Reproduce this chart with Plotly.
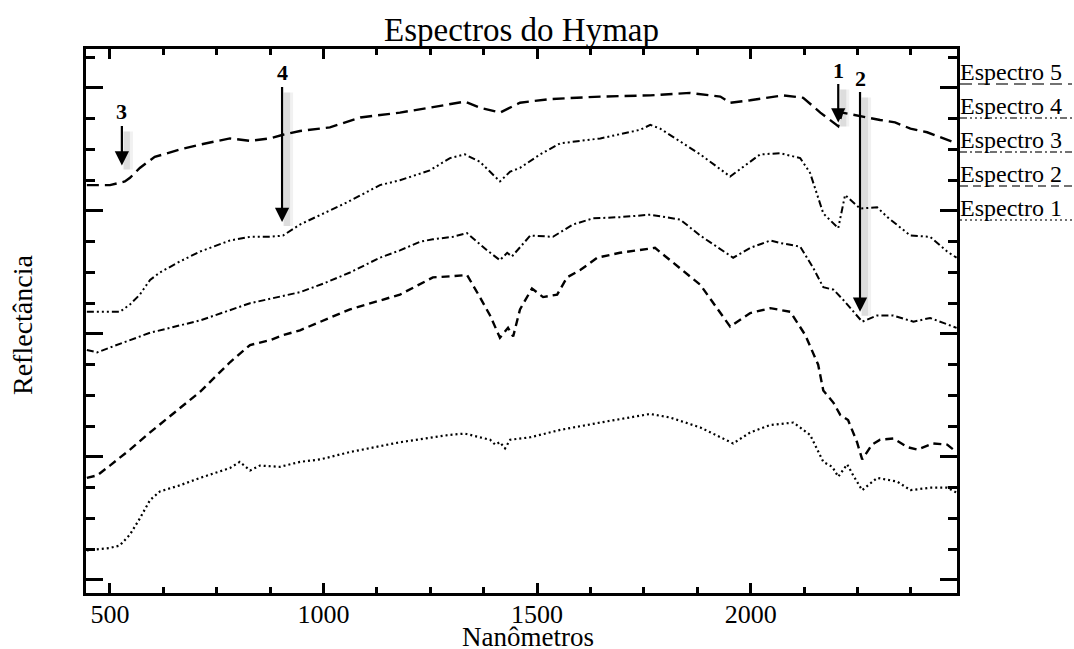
import plotly.graph_objects as go

# ---------------- data (wavelength in nm, reflectance in arbitrary %) ----------------
wl1 = [446, 500, 523, 547, 570, 594, 617, 664, 711, 781, 804, 828, 851, 898, 945, 992, 1062, 1179, 1296, 1331,
       1366, 1390, 1402, 1413, 1425, 1437, 1484, 1554, 1648, 1765, 1812, 1882, 1959, 1999, 2046, 2100, 2139, 2170,
       2191, 2205, 2226, 2240, 2261, 2296, 2343, 2374, 2420, 2460, 2482]
r1 = [12.4, 12.6, 12.8, 13.7, 15.0, 16.5, 17.2, 17.7, 18.3, 19.1, 19.6, 18.9, 19.3, 19.2, 19.6, 19.8, 20.4, 21.2,
      21.8, 21.9, 21.6, 21.4, 21.0, 21.2, 20.7, 21.4, 21.6, 22.2, 22.8, 23.5, 23.2, 22.4, 21.1, 22.0, 22.6, 22.8,
      21.8, 19.6, 19.2, 18.4, 19.4, 18.5, 17.3, 18.3, 18.0, 17.3, 17.5, 17.5, 17.1]

wl2 = [446, 470, 500, 547, 594, 664, 711, 781, 828, 875, 905, 945, 1062, 1179, 1256, 1303, 1336, 1366, 1390, 1413,
       1432, 1444, 1460, 1488, 1514, 1547, 1570, 1601, 1641, 1694, 1776, 1882, 1952, 1999, 2046, 2093, 2128, 2158,
       2170, 2194, 2210, 2228, 2249, 2261, 2284, 2303, 2334, 2367, 2390, 2427, 2460, 2482]
r2 = [18.3, 18.5, 19.3, 20.6, 22.0, 24.0, 25.3, 27.7, 29.1, 29.5, 29.9, 30.3, 32.0, 33.2, 34.6, 34.7, 34.8, 33.0,
      31.5, 29.7, 30.5, 29.8, 32.0, 33.7, 33.0, 33.2, 34.6, 35.2, 36.2, 36.6, 37.0, 34.0, 30.6, 31.7, 32.1, 31.8,
      29.9, 27.5, 25.4, 24.4, 23.4, 23.0, 21.2, 19.8, 21.0, 21.4, 21.5, 20.8, 20.6, 21.1, 21.0, 20.4]

wl3 = [446, 470, 500, 547, 594, 664, 711, 828, 945, 1000, 1062, 1132, 1179, 1226, 1256, 1303, 1336, 1383, 1413,
       1430, 1441, 1484, 1537, 1584, 1631, 1694, 1765, 1835, 1882, 1959, 1999, 2046, 2069, 2116, 2146, 2170, 2194,
       2216, 2261, 2296, 2334, 2381, 2420, 2451, 2482]
r3 = [28.7, 28.5, 28.9, 29.5, 30.1, 30.7, 31.1, 32.5, 33.4, 34.1, 35.0, 36.2, 36.8, 37.5, 37.7, 37.9, 38.2, 36.8,
      36.0, 36.6, 36.3, 38.0, 37.9, 38.9, 39.4, 39.5, 39.7, 39.3, 38.0, 36.2, 37.0, 37.6, 37.4, 37.1, 35.4, 33.8,
      33.6, 32.8, 31.0, 31.5, 31.5, 31.0, 31.3, 30.9, 30.5]

wl4 = [446, 500, 523, 547, 570, 594, 617, 664, 711, 781, 828, 875, 905, 945, 1055, 1132, 1179, 1249, 1296, 1331,
       1366, 1413, 1437, 1460, 1507, 1554, 1648, 1741, 1765, 1788, 1882, 1952, 1987, 2022, 2069, 2116, 2139, 2170,
       2205, 2221, 2256, 2296, 2320, 2374, 2420, 2460, 2482]
r4 = [31.8, 31.8, 31.8, 32.4, 33.2, 34.4, 35.0, 35.9, 36.7, 37.6, 37.9, 37.9, 38.0, 38.9, 40.7, 42.1, 42.5, 43.3,
      44.3, 44.6, 44.0, 42.4, 43.2, 43.5, 44.6, 45.5, 45.9, 46.6, 47.0, 46.7, 44.6, 42.8, 43.7, 44.6, 44.7, 44.3,
      43.1, 39.8, 38.6, 41.3, 40.2, 40.3, 39.5, 38.0, 37.9, 36.7, 36.2]

wl5 = [446, 500, 535, 547, 570, 594, 605, 664, 711, 781, 828, 875, 905, 945, 1015, 1086, 1132, 1179, 1249, 1331,
       1366, 1413, 1460, 1530, 1648, 1765, 1858, 1929, 1952, 1999, 2076, 2123, 2163, 2205, 2214, 2256, 2303, 2338,
       2374, 2413, 2482]
r5 = [42.1, 42.1, 42.4, 42.7, 43.5, 44.1, 44.4, 45.0, 45.4, 45.9, 45.7, 45.9, 46.2, 46.5, 46.8, 47.6, 47.8, 48.0,
      48.4, 48.9, 48.4, 48.0, 48.8, 49.1, 49.3, 49.4, 49.6, 49.3, 48.8, 49.0, 49.4, 49.2, 48.0, 46.9, 48.0, 47.7,
      47.4, 47.2, 46.7, 46.4, 45.5]

series_names = ["Espectro 1", "Espectro 2", "Espectro 3", "Espectro 4", "Espectro 5"]
x_ticks = [500, 1000, 1500, 2000]

# arrow markers: label, wavelength of tip, reflectance of tip
arrow_labels = ["1", "2", "3", "4"]
arrow_wl = [2205, 2256, 528, 903]
arrow_refl = [47.2, 31.8, 43.7, 39.1]

# ---------------- styles ----------------
FONT = "Liberation Serif"
dashes = ["2px,3px", "8px,5px", "7px,3px,2px,3px", "7px,3px,2px,3px,2px,3px,2px,3px", "12px,6px"]
widths = [2.2, 2.4, 2.0, 2.0, 2.4]
series = [(wl1, r1), (wl2, r2), (wl3, r3), (wl4, r4), (wl5, r5)]
Y_RANGE = [8.94, 53.17]

fig = go.Figure()
for (wl, r), name, d, w in zip(series, series_names, dashes, widths):
    fig.add_trace(go.Scatter(x=wl, y=r, mode="lines", name=name,
                             line=dict(color="black", width=w, dash=d), showlegend=False))

PLOT_L, PLOT_R, PLOT_T, PLOT_B = 86, 957, 49, 593
PW, PH = PLOT_R - PLOT_L, PLOT_B - PLOT_T


def px_x(px):
    return (px - PLOT_L) / PW


def px_y(py):
    return (PLOT_B - py) / PH


annotations = []
shapes = []

# title and axis titles
annotations.append(dict(text="Espectros do Hymap", x=px_x(521.5), y=px_y(30), xref="paper", yref="paper",
                        showarrow=False, xanchor="center", yanchor="middle",
                        font=dict(family=FONT, size=33, color="black")))
annotations.append(dict(text="Nanômetros", x=px_x(528), y=px_y(637), xref="paper", yref="paper",
                        showarrow=False, xanchor="center", yanchor="middle",
                        font=dict(family=FONT, size=27, color="black")))
annotations.append(dict(text="Reflectância", x=px_x(22), y=px_y(325), xref="paper", yref="paper",
                        showarrow=False, xanchor="center", yanchor="middle", textangle=-90,
                        font=dict(family=FONT, size=28, color="black")))

# legend (text with underline line samples), top-to-bottom Espectro 5..1
text_centres = [208, 174, 140, 106, 72]
underline_y = [220, 186, 152, 118, 84]
for i, name in enumerate(series_names):
    annotations.append(dict(text=name, x=px_x(958), y=px_y(text_centres[i]), xref="paper", yref="paper",
                            showarrow=False, xanchor="left", yanchor="middle",
                            font=dict(family=FONT, size=24, color="black")))
    shapes.append(dict(type="line", xref="paper", yref="paper",
                       x0=px_x(960), x1=px_x(1072), y0=px_y(underline_y[i]), y1=px_y(underline_y[i]),
                       line=dict(color="#444", width=1.3, dash=dashes[i])))

# arrows with soft shadow
label_centres_px = [70, 78, 112, 73]
for lab, xw, yr, lc in zip(arrow_labels, arrow_wl, arrow_refl, label_centres_px):
    tip_py = PLOT_B - (yr - Y_RANGE[0]) / (Y_RANGE[1] - Y_RANGE[0]) * PH
    ay = lc - tip_py
    for sw, alpha, sh in [(10, 0.05, 6), (6, 0.08, 5)]:
        annotations.append(dict(x=xw, y=yr, xref="x", yref="y", ax=0, ay=ay + 14, text="",
                                showarrow=True, arrowhead=0, arrowwidth=sw,
                                arrowcolor=f"rgba(0,0,0,{alpha})", xshift=sh, yshift=-4))
    annotations.append(dict(x=xw, y=yr, xref="x", yref="y", ax=0, ay=ay, text=f"<b>{lab}</b>",
                            showarrow=True, arrowhead=2, arrowsize=1.3, arrowwidth=2.2, arrowcolor="black",
                            standoff=0, font=dict(family=FONT, size=22, color="black")))

axis_common = dict(showgrid=False, zeroline=False, showline=True, linecolor="black", linewidth=3,
                   mirror="ticks", ticks="inside", tickcolor="black", tickwidth=2.5)

fig.update_layout(
    width=1074, height=649, autosize=False,
    margin=dict(l=PLOT_L, r=1074 - PLOT_R, t=PLOT_T, b=649 - PLOT_B),
    plot_bgcolor="white", paper_bgcolor="white",
    xaxis=dict(range=[444, 2483], tickvals=x_ticks, ticktext=[str(v) for v in x_ticks], ticklen=10,
               ticklabelstandoff=-4,
               tickfont=dict(family=FONT, size=26, color="black"),
               minor=dict(dtick=125, tick0=500, ticks="inside", ticklen=6, tickwidth=2.5, tickcolor="black"),
               **axis_common),
    yaxis=dict(range=Y_RANGE, tick0=10, dtick=10, ticklen=17, showticklabels=False,
               minor=dict(dtick=2.5, tick0=10, ticks="inside", ticklen=9, tickwidth=2.5, tickcolor="black"),
               **axis_common),
    annotations=annotations,
    shapes=shapes,
    showlegend=False,
)

fig.write_html("out.html", config={"displayModeBar": False},
               post_script="document.body.style.margin='0px';")
